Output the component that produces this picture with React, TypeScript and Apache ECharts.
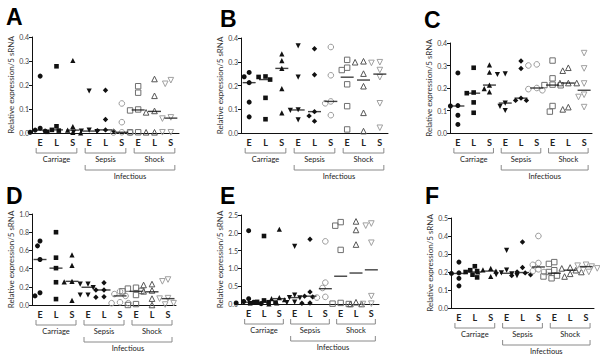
import React, { useEffect, useRef } from 'react';
import * as echarts from 'echarts';

// ---------- DATA ----------
const categories = ['cE', 'cL', 'cS', 'sE', 'sL', 'sS', 'hE', 'hL', 'hS'];
const groupLabels = ['Carriage', 'Sepsis', 'Shock'];
const superLabel = 'Infectious';
const panelLetters = ['A', 'B', 'C', 'D', 'E', 'F'];
const yAxisName = 'Relative expression/5 sRNA';
const yMax = [0.4, 0.4, 0.4, 1.0, 2.5, 0.5];
const yInterval = [0.1, 0.1, 0.1, 0.2, 0.5, 0.1];

const panelA = [
  [0.237, 0.02, 0.012, 0.008, 0.003],
  [0.278, 0.028, 0.013, 0.01, 0.005],
  [0.302, 0.027, 0.012, 0.003, 0.0],
  [0.175, 0.012, 0.008, 0.006, 0.004],
  [0.178, 0.056, 0.013, 0.01, 0.008],
  [0.123, 0.045, 0.003, 0.002, 0.001],
  [0.195, 0.168, 0.098, 0.094, 0.003, 0.003],
  [0.225, 0.155, 0.092, 0.086, 0.003, 0.003],
  [0.22, 0.205, 0.065, 0.06, 0.003, 0.003],
];
const linesA = [0.012, 0.013, 0.012, 0.008, 0.013, 0.003, 0.096, 0.09, 0.062];

const panelB = [
  [0.255, 0.237, 0.212, 0.13, 0.068],
  [0.238, 0.236, 0.225, 0.148, 0.058],
  [0.333, 0.305, 0.272, 0.187, 0.085],
  [0.367, 0.235, 0.098, 0.095, 0.055],
  [0.355, 0.245, 0.09, 0.072, 0.05],
  [0.362, 0.243, 0.133, 0.125, 0.075],
  [0.308, 0.275, 0.265, 0.205, 0.113, 0.015],
  [0.302, 0.298, 0.25, 0.197, 0.085, 0.008],
  [0.298, 0.295, 0.265, 0.235, 0.125, 0.022],
];
const linesB = [0.212, 0.225, 0.272, 0.097, 0.09, 0.133, 0.235, 0.223, 0.248];

const panelC = [
  [0.267, 0.122, 0.12, 0.079, 0.038],
  [0.29, 0.18, 0.177, 0.136, 0.09],
  [0.303, 0.27, 0.213, 0.197, 0.183],
  [0.263, 0.26, 0.133, 0.118, 0.1],
  [0.32, 0.287, 0.155, 0.145, 0.145],
  [0.305, 0.3, 0.2, 0.195, 0.19],
  [0.322, 0.243, 0.215, 0.213, 0.212, 0.12, 0.095],
  [0.29, 0.277, 0.222, 0.222, 0.222, 0.115, 0.105],
  [0.355, 0.287, 0.22, 0.17, 0.16, 0.115],
];
const linesC = [0.12, 0.177, 0.213, 0.133, 0.155, 0.2, 0.213, 0.222, 0.19];

const panelD = [
  [0.703, 0.65, 0.5, 0.135, 0.1],
  [0.8, 0.52, 0.405, 0.25, 0.065],
  [0.55, 0.435, 0.26, 0.255, 0.05],
  [0.23, 0.23, 0.19, 0.11, 0.11],
  [0.245, 0.165, 0.165, 0.09, 0.085],
  [0.15, 0.12, 0.1, 0.03, 0.02, 0.02],
  [0.19, 0.18, 0.155, 0.15, 0.11, 0.01, 0.0],
  [0.23, 0.22, 0.16, 0.15, 0.07, 0.0],
  [0.28, 0.26, 0.075, 0.07, 0.02, 0.005],
];
const linesD = [0.5, 0.405, 0.26, 0.195, 0.165, 0.1, 0.15, 0.145, 0.07];

const panelE = [
  [2.06, 0.15, 0.07, 0.05, 0.03, 0.01],
  [1.91, 0.1, 0.06, 0.05, 0.04, 0.02],
  [2.1, 0.18, 0.15, 0.12, 0.03, 0.0],
  [1.62, 0.25, 0.18, 0.17, 0.05, 0.04],
  [1.82, 0.34, 0.22, 0.2, 0.03, 0.02],
  [1.76, 0.6, 0.45, 0.2, 0.18],
  [2.3, 2.2, 1.52, 0.03, 0.01, 0.0],
  [2.32, 2.08, 1.67, 0.05, 0.0, 0.0],
  [2.26, 2.2, 1.72, 0.22, 0.01, 0.0],
];
const linesE = [0.05, 0.05, 0.15, 0.18, 0.22, 0.43, 0.78, 0.87, 0.96];

const panelF = [
  [0.255, 0.195, 0.192, 0.165, 0.123],
  [0.232, 0.21, 0.205, 0.2, 0.185, 0.17],
  [0.22, 0.212, 0.205, 0.2, 0.175],
  [0.32, 0.21, 0.195, 0.19, 0.185, 0.18],
  [0.367, 0.225, 0.2, 0.195, 0.185, 0.18],
  [0.4, 0.25, 0.24, 0.215, 0.205, 0.2],
  [0.255, 0.245, 0.21, 0.2, 0.18, 0.175, 0.165],
  [0.225, 0.22, 0.21, 0.2, 0.19, 0.175],
  [0.24, 0.235, 0.23, 0.22, 0.21, 0.2],
];
const linesF = [0.192, 0.2, 0.205, 0.193, 0.197, 0.228, 0.193, 0.21, 0.23];

const panels = [panelA, panelB, panelC, panelD, panelE, panelF];
const centerLines = [linesA, linesB, linesC, linesD, linesE, linesF];

// ---------- LAYOUT / STYLE ----------
const grids = [
  { left: 32, top: 37, width: 147, height: 96 },
  { left: 241, top: 38, width: 147, height: 95 },
  { left: 450, top: 43, width: 142, height: 90 },
  { left: 32, top: 214, width: 144, height: 91 },
  { left: 241, top: 215, width: 138, height: 89 },
  { left: 451, top: 218, width: 143, height: 90 },
];
const letterPos = [
  [6, 17], [220, 19], [424, 20], [6, 196], [220, 196], [425, 196],
];

const markers = [
  { symbol: 'circle', size: 5, rot: 0, fill: '#111', stroke: '' },
  { symbol: 'rect', size: 4.6, rot: 0, fill: '#111', stroke: '' },
  { symbol: 'triangle', size: 5.2, rot: 0, fill: '#111', stroke: '' },
  { symbol: 'triangle', size: 5.2, rot: 180, fill: '#111', stroke: '' },
  { symbol: 'diamond', size: 5.4, rot: 0, fill: '#111', stroke: '' },
  { symbol: 'circle', size: 5.6, rot: 0, fill: 'rgba(255,255,255,0)', stroke: '#9a9a9a' },
  { symbol: 'rect', size: 5.4, rot: 0, fill: 'rgba(255,255,255,0)', stroke: '#6f6f6f' },
  { symbol: 'triangle', size: 5.6, rot: 0, fill: 'rgba(255,255,255,0)', stroke: '#555' },
  { symbol: 'triangle', size: 5.6, rot: 180, fill: 'rgba(255,255,255,0)', stroke: '#a0a0a0' },
];

const FONT = 'Lato, "Open Sans", sans-serif';

// simple beeswarm: horizontal offsets so close values don't overlap
function swarm(values: number[], pxPerUnit: number, size: number): number[] {
  const order = values.map((_, i) => i).sort((a, b) => values[b] - values[a]);
  const placed: { x: number; y: number }[] = [];
  const offs = new Array(values.length).fill(0);
  const step = size / 2;
  const cands: number[] = [0];
  for (let k = 1; k < 14; k++) cands.push(-k * step, k * step);
  for (const i of order) {
    const y = values[i] * pxPerUnit;
    for (const x of cands) {
      if (placed.every((p) => (p.x - x) ** 2 + (p.y - y) ** 2 >= size * size * 1.1)) {
        offs[i] = x;
        placed.push({ x, y });
        break;
      }
    }
  }
  return offs;
}

export default function App() {
  const ref = useRef<HTMLDivElement>(null);
  useEffect(() => {
    if (!ref.current) return;
    const chart = echarts.init(ref.current, null, { renderer: 'svg' });

    const xAxes: any[] = [];
    const yAxes: any[] = [];
    const series: any[] = [];

    grids.forEach((g, p) => {
      xAxes.push({
        type: 'category',
        gridIndex: p,
        data: categories,
        axisLine: { lineStyle: { color: '#111', width: 1 } },
        axisTick: { alignWithLabel: true, length: 3, lineStyle: { color: '#111' } },
        axisLabel: {
          formatter: (v: string) => v.slice(1),
          fontSize: 9,
          fontWeight: 'bold',
          color: '#222',
          margin: 5,
          fontFamily: FONT,
          interval: 0,
        },
        splitLine: { show: false },
      });
      yAxes.push({
        type: 'value',
        gridIndex: p,
        min: 0,
        max: yMax[p],
        interval: yInterval[p],
        name: yAxisName,
        nameLocation: 'middle',
        nameGap: 17,
        nameTextStyle: { fontSize: 8, color: '#333', fontFamily: FONT },
        axisLine: { show: true, lineStyle: { color: '#111', width: 1 } },
        axisTick: { show: true, length: 3, lineStyle: { color: '#111' } },
        axisLabel: {
          formatter: (v: number) => v.toFixed(1),
          fontSize: 7,
          color: '#444',
          margin: 3,
          fontFamily: FONT,
        },
        splitLine: { show: false },
      });

      const pxPerUnit = g.height / yMax[p];
      panels[p].forEach((vals, c) => {
        const m = markers[c];
        const offs = swarm(vals, pxPerUnit, m.size);
        series.push({
          type: 'scatter',
          xAxisIndex: p,
          yAxisIndex: p,
          symbol: m.symbol,
          symbolSize: m.size,
          symbolRotate: m.rot,
          silent: true,
          itemStyle: m.stroke
            ? { color: m.fill, borderColor: m.stroke, borderWidth: 1, opacity: 1 }
            : { color: m.fill, opacity: 1 },
          data: vals.map((v, i) => ({ value: [c, v], symbolOffset: [offs[i], 0] })),
          z: 2,
        });
      });
      series.push({
        type: 'scatter',
        xAxisIndex: p,
        yAxisIndex: p,
        symbol: 'rect',
        symbolSize: [13, 1.4],
        silent: true,
        itemStyle: { color: '#111' },
        data: centerLines[p].map((v, c) => [c, v]),
        z: 3,
      });
    });

    chart.setOption({
      animation: false,
      backgroundColor: '#fff',
      grid: grids.map((g) => ({ ...g, containLabel: false })),
      xAxis: xAxes,
      yAxis: yAxes,
      series,
    });

    // brackets & labels, positioned via the axes
    const graphic: any[] = [];
    grids.forEach((g, p) => {
      const axisY = g.top + g.height;
      const px = (c: number) => {
        const r = chart.convertToPixel({ xAxisIndex: p } as any, c as any) as any;
        const v = Array.isArray(r) ? r[0] : r;
        return typeof v === 'number' && isFinite(v) ? v : g.left + ((c + 0.5) * g.width) / 9;
      };
      const bracket = (x1: number, x2: number, yT: number, yB: number) => ({
        type: 'polyline',
        shape: { points: [[x1, yT], [x1, yB], [x2, yB], [x2, yT]] },
        style: { stroke: '#8a8a8a', lineWidth: 1, fill: null },
        silent: true,
      });
      const label = (text: string, x: number, y: number) => ({
        type: 'text',
        x,
        y,
        style: {
          text,
          fontSize: 7.5,
          fill: '#222222',
          fontFamily: FONT,
          align: 'center',
          verticalAlign: 'middle',
        },
        silent: true,
      });
      for (let k = 0; k < 3; k++) {
        const x1 = px(3 * k) - 4;
        const x2 = px(3 * k + 2) + 4;
        graphic.push(bracket(x1, x2, axisY + 15, axisY + 20));
        graphic.push(label(groupLabels[k], (x1 + x2) / 2, axisY + 26.5));
      }
      const ix1 = px(3) - 4;
      const ix2 = px(8) + 4;
      graphic.push(bracket(ix1, ix2, axisY + 32, axisY + 37));
      graphic.push(label(superLabel, (ix1 + ix2) / 2, axisY + 43));
      graphic.push({
        type: 'text',
        x: letterPos[p][0],
        y: letterPos[p][1],
        style: {
          text: panelLetters[p],
          fontSize: 23,
          fontWeight: 'bold',
          fill: '#000000',
          fontFamily: '"Liberation Sans", Arial, sans-serif',
          align: 'left',
          verticalAlign: 'middle',
        },
        silent: true,
      });
    });
    chart.setOption({ graphic });

    return () => chart.dispose();
  }, []);

  return (
    <div
      ref={ref}
      style={{ position: 'absolute', left: 0, top: 0, width: 600, height: 362, background: '#fff' }}
    />
  );
}
